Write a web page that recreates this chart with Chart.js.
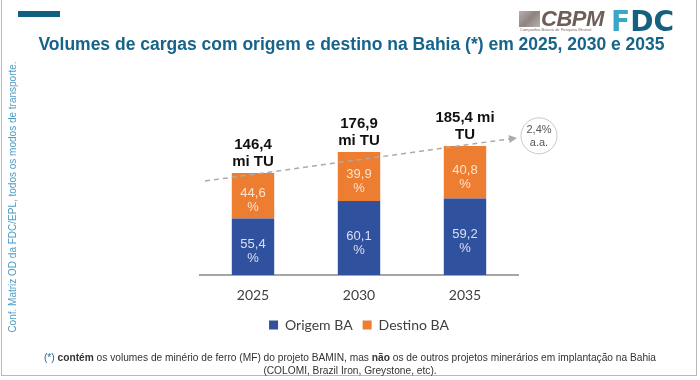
<!DOCTYPE html>
<html>
<head>
<meta charset="utf-8">
<script src="https://cdn.jsdelivr.net/npm/chart.js@4.4.1/dist/chart.umd.min.js"></script>
<style>
  html, body { margin: 0; padding: 0; background: #fff; }
  #wrap { position: relative; width: 700px; height: 380px; overflow: hidden; background: #fff; font-family: "Liberation Sans", Arial, sans-serif; }
  #frame { position: absolute; left: 1px; top: -2px; width: 696px; height: 378px; border: 1px solid #b8b8b8; box-sizing: border-box; }
  #cv { position: absolute; left: 0; top: 0; }
  #topbar { position: absolute; left: 18px; top: 11px; width: 42px; height: 6px; background: #10607f; }
  #title { position: absolute; left: 0; width: 700px; top: 34px; text-align: center; font: bold 17.5px "Liberation Sans", Arial, sans-serif; color: #17648a; white-space: nowrap; padding-left: 3px; box-sizing: border-box; }
  #side { position: absolute; left: 12px; top: 197px; transform: translate(-50%, -50%) rotate(-90deg); font: 10px "Liberation Sans", Arial, sans-serif; color: #4d9dc2; white-space: nowrap; }
  #foot { position: absolute; left: 0; width: 700px; top: 351px; text-align: center; font: 10.2px "Liberation Sans Narrow", "Liberation Sans", Arial, sans-serif; color: #333; line-height: 13px; }
  #foot .ast { color: #1e6a90; }
  #cbpmIcon { position: absolute; left: 519px; top: 11px; width: 21px; height: 16px; background: linear-gradient(135deg, #b9b1ad 0%, #8e8380 50%, #b9b1ad 100%); }
  #cbpm { position: absolute; left: 541px; top: 6px; font: italic bold 22px "Liberation Sans Narrow", "Liberation Sans", Arial, sans-serif; color: #6f5d57; letter-spacing: -0.5px; }
  #cbpmSub { position: absolute; left: 520px; top: 27px; font: 4px "Liberation Sans", Arial, sans-serif; color: #7a6e6a; white-space: nowrap; }
  #fdc { position: absolute; left: 611px; top: 5px; font: bold 28px "DejaVu Sans", "Liberation Sans", Arial, sans-serif; color: #14607f; letter-spacing: 0px; }
  #fdc .f { color: #3aa6c8; }
</style>
</head>
<body>
<div id="wrap">
  <canvas id="cv" width="700" height="380"></canvas>
  <div id="frame"></div>
  <div id="topbar"></div>
  <div id="cbpmIcon"></div>
  <div id="cbpm">CBPM</div>
  <div id="cbpmSub">Companhia Baiana de Pesquisa Mineral</div>
  <div id="fdc"><span class="f">F</span>DC</div>
  <div id="title">Volumes de cargas com origem e destino na Bahia (*) em 2025, 2030 e 2035</div>
  <div id="side">Conf. Matriz OD da FDC/EPL, todos os modos de transporte.</div>
  <div id="foot"><span class="ast">(*)</span> <b>contém</b> os volumes de minério de ferro (MF) do projeto BAMIN, mas <b>não</b> os de outros projetos minerários em implantação na Bahia<br>(COLOMI, Brazil Iron, Greystone, etc).</div>
</div>
<script>
// ---- data ----
const years = ['2025', '2030', '2035'];
const origemBA = [81.1, 106.3, 109.8];     // mi TU (total x share)
const destinoBA = [65.3, 70.6, 75.6];      // mi TU
const pctOrigem = ['55,4', '60,1', '59,2'];
const pctDestino = ['44,6', '39,9', '40,8'];
const totalLabels = [['146,4', 'mi TU'], ['176,9', 'mi TU'], ['185,4 mi', 'TU']];
const trendValues = [135, 197];            // dashed growth line, start/end in mi TU
const growthLabel = ['2,4%', 'a.a.'];
const growthValue = 200;

const labelPlugin = {
  id: 'labels',
  afterDatasetsDraw(chart) {
    const ctx = chart.ctx;
    const ys = chart.scales.y;
    const area = chart.chartArea;
    // trend line with arrow
    const x0 = area.left + 5, x1 = area.right - 1;
    const y0 = ys.getPixelForValue(trendValues[0]);
    const y1 = ys.getPixelForValue(trendValues[1]);
    ctx.save();
    ctx.strokeStyle = '#ababab';
    ctx.lineWidth = 1.5;
    ctx.setLineDash([5, 4]);
    ctx.beginPath();
    const ang = Math.atan2(y1 - y0, x1 - x0);
    ctx.moveTo(x0, y0);
    ctx.lineTo(x1 - 6 * Math.cos(ang), y1 - 6 * Math.sin(ang));
    ctx.stroke();
    ctx.setLineDash([]);
    ctx.fillStyle = '#ababab';
    ctx.beginPath();
    ctx.moveTo(x1, y1);
    ctx.lineTo(x1 - 8 * Math.cos(ang) + 4 * Math.sin(ang), y1 - 8 * Math.sin(ang) - 4 * Math.cos(ang));
    ctx.lineTo(x1 - 8 * Math.cos(ang) - 4 * Math.sin(ang), y1 - 8 * Math.sin(ang) + 4 * Math.cos(ang));
    ctx.closePath();
    ctx.fill();
    // growth circle
    const cx = area.right + 21, cy = ys.getPixelForValue(growthValue);
    ctx.strokeStyle = '#c8c8c8';
    ctx.lineWidth = 1;
    ctx.fillStyle = '#fff';
    ctx.beginPath();
    ctx.arc(cx, cy, 18, 0, Math.PI * 2);
    ctx.fill();
    ctx.stroke();
    ctx.fillStyle = '#555';
    ctx.font = '11px "Liberation Sans", Arial, sans-serif';
    ctx.textAlign = 'center';
    ctx.textBaseline = 'middle';
    ctx.fillText(growthLabel[0], cx, cy - 6);
    ctx.fillText(growthLabel[1], cx, cy + 7);

    // inner percentages
    const sets = [pctOrigem, pctDestino];
    ctx.font = '13px "Liberation Sans", Arial, sans-serif';
    chart.data.datasets.forEach((ds, di) => {
      const meta = chart.getDatasetMeta(di);
      meta.data.forEach((bar, i) => {
        const mid = (bar.y + bar.base) / 2;
        ctx.fillStyle = di === 0 ? 'rgba(225,230,248,0.95)' : 'rgba(255,232,212,0.95)';
        ctx.fillText(sets[di][i], bar.x, mid - 2);
        ctx.fillText('%', bar.x, mid + 12);
      });
    });
    // totals
    const top = chart.getDatasetMeta(chart.data.datasets.length - 1);
    ctx.font = 'bold 15px "Liberation Sans", Arial, sans-serif';
    ctx.fillStyle = '#111';
    top.data.forEach((bar, i) => {
      ctx.fillText(totalLabels[i][0], bar.x, bar.y - 28);
      ctx.fillText(totalLabels[i][1], bar.x, bar.y - 11);
    });
    ctx.restore();
  }
};

new Chart(document.getElementById('cv'), {
  type: 'bar',
  data: {
    labels: years,
    datasets: [
      { label: 'Origem BA', data: origemBA, backgroundColor: '#2f519e', categoryPercentage: 1, barPercentage: 0.4 },
      { label: 'Destino BA', data: destinoBA, backgroundColor: '#ed7d31', categoryPercentage: 1, barPercentage: 0.4 }
    ]
  },
  options: {
    responsive: false,
    animation: false,
    layout: { padding: { left: 200, right: 182, top: 101, bottom: 38 } },
    scales: {
      x: {
        stacked: true,
        grid: { display: false, drawTicks: false },
        border: { color: '#a6a6a6', width: 2 },
        ticks: { color: '#404040', font: { family: 'Lato, "Open Sans", sans-serif', size: 14 }, padding: 12 },
        afterFit(scale) { scale.height = 33; }
      },
      y: { stacked: true, display: false, min: 0, max: 250 }
    },
    plugins: {
      legend: {
        position: 'bottom',
        labels: { boxWidth: 9, boxHeight: 9, color: '#404040', font: { family: 'Lato, "Open Sans", sans-serif', size: 14 }, padding: 10 }
      },
      tooltip: { enabled: false },
      title: { display: false }
    }
  },
  plugins: [labelPlugin]
});
</script>
</body>
</html>
